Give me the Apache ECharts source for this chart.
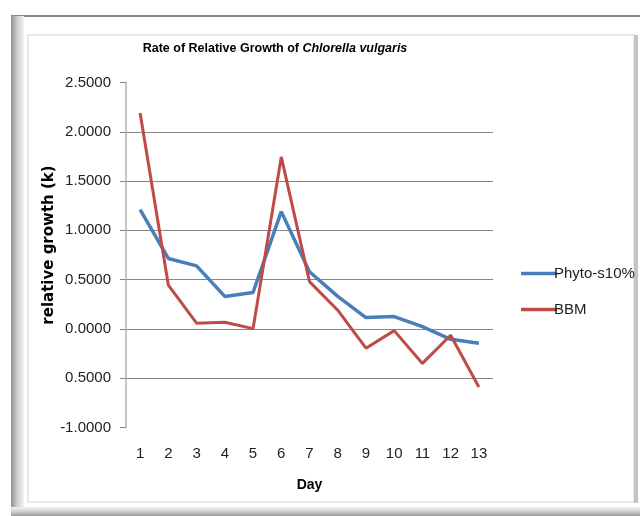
<!DOCTYPE html>
<html>
<head>
<meta charset="utf-8">
<script src="https://cdn.jsdelivr.net/npm/echarts@6/dist/echarts.min.js"></script>
<style>html,body{margin:0;padding:0;background:#fff}#c{width:640px;height:516px}</style>
</head>
<body>
<div id="c"></div>
<script>
const days = ['1','2','3','4','5','6','7','8','9','10','11','12','13'];
const phyto = [1.21, 0.715, 0.64, 0.33, 0.37, 1.19, 0.58, 0.33, 0.115, 0.125, 0.023, -0.105, -0.145];
const bbm = [2.19, 0.445, 0.058, 0.068, 0.003, 1.745, 0.48, 0.19, -0.195, -0.017, -0.35, -0.064, -0.59];
const yTicks = [-1, -0.5, 0, 0.5, 1, 1.5, 2, 2.5];
const yTickLabels = ['-1.0000', '0.5000', '0.0000', '0.5000', '1.0000', '1.5000', '2.0000', '2.5000'];

const chart = echarts.init(document.getElementById('c'), null, {renderer: 'canvas'});
const grid = '#868686';
const legendPath = 'path://M0,0 L36,0 L36,3.5 L0,3.5 Z';
chart.setOption({
  animation: false,
  backgroundColor: '#fff',
  graphic: [
    {type: 'rect', z: -10, shape: {x: 28, y: 35, width: 606, height: 467}, style: {fill: '#fff', stroke: '#e2e2e2', lineWidth: 1.5}},
    {type: 'rect', z: -10, shape: {x: 634, y: 35, width: 4, height: 468}, style: {fill: '#c4c4c4'}},
    {type: 'rect', z: -10, shape: {x: 11, y: 15, width: 629, height: 2}, style: {fill: '#8a8a8a'}},
    {type: 'rect', z: -10, shape: {x: 11, y: 16, width: 13, height: 500},
      style: {fill: new echarts.graphic.LinearGradient(0, 0, 1, 0, [{offset: 0, color: '#8f8f8f'}, {offset: 0.5, color: '#cfcfcf'}, {offset: 1, color: '#f2f2f2'}])}},
    {type: 'rect', z: -10, shape: {x: 11, y: 507, width: 629, height: 9},
      style: {fill: new echarts.graphic.LinearGradient(0, 0, 0, 1, [{offset: 0, color: '#f2f2f2'}, {offset: 0.5, color: '#d0d0d0'}, {offset: 1, color: '#9a9a9a'}])}}
  ],
  title: {
    text: '{b|Rate of Relative Growth of }{i|Chlorella vulgaris}',
    left: 270, top: 37, textAlign: 'center',
    textStyle: {
      rich: {
        b: {fontFamily: 'Liberation Sans', fontWeight: 'bold', fontSize: 12.5, color: '#000'},
        i: {fontFamily: 'Liberation Sans', fontWeight: 'bold', fontStyle: 'italic', fontSize: 12.5, color: '#000'}
      }
    }
  },
  legend: {
    orient: 'vertical', left: 516, top: 261,
    itemWidth: 36, itemHeight: 3.5, itemGap: 21,
    textStyle: {fontFamily: 'Liberation Sans', fontSize: 15, color: '#222', padding: [0, 0, 0, -8]},
    data: [{name: 'Phyto-s10%', icon: legendPath}, {name: 'BBM', icon: legendPath}]
  },
  grid: {left: 126, right: 147, top: 82.5, bottom: 88.5, containLabel: false},
  xAxis: {
    type: 'category', data: days, boundaryGap: true,
    name: 'Day', nameLocation: 'middle', nameGap: 51,
    nameTextStyle: {fontFamily: 'Liberation Sans', fontWeight: 'bold', fontSize: 14, color: '#000'},
    axisLine: {show: false}, axisTick: {show: false},
    axisLabel: {fontFamily: 'Liberation Sans', fontSize: 15, color: '#222', margin: 19}
  },
  yAxis: {
    type: 'value', min: -1, max: 2.5, interval: 0.5,
    name: 'relative growth (k)', nameLocation: 'middle', nameGap: 77, nameRotate: 90,
    nameMoveOverlap: false,
    nameTextStyle: {fontFamily: 'DejaVu Sans', fontWeight: 'bold', fontSize: 15, color: '#000', verticalAlign: 'middle', padding: [0, 0, 0, 20]},
    axisLine: {show: true, lineStyle: {color: '#b0b0b0', width: 1.5}},
    axisTick: {show: true, length: 6, lineStyle: {color: '#868686'}},
    splitLine: {show: true, lineStyle: {color: ['rgba(0,0,0,0)', grid, grid, grid, grid, grid, grid, 'rgba(0,0,0,0)'], width: 1.2}},
    axisLabel: {
      fontFamily: 'Liberation Sans', fontSize: 15, color: '#222', margin: 15,
      formatter: function (v) { const i = yTicks.indexOf(Math.round(v * 2) / 2); return i >= 0 ? yTickLabels[i] : ''; }
    }
  },
  series: [
    {name: 'Phyto-s10%', type: 'line', data: phyto, symbol: 'none', lineStyle: {color: '#4a7ebb', width: 3.5}, itemStyle: {color: '#4a7ebb'}, z: 3},
    {name: 'BBM', type: 'line', data: bbm, symbol: 'none', lineStyle: {color: '#be4b48', width: 3}, itemStyle: {color: '#be4b48'}, z: 4}
  ]
});
</script>
</body>
</html>
